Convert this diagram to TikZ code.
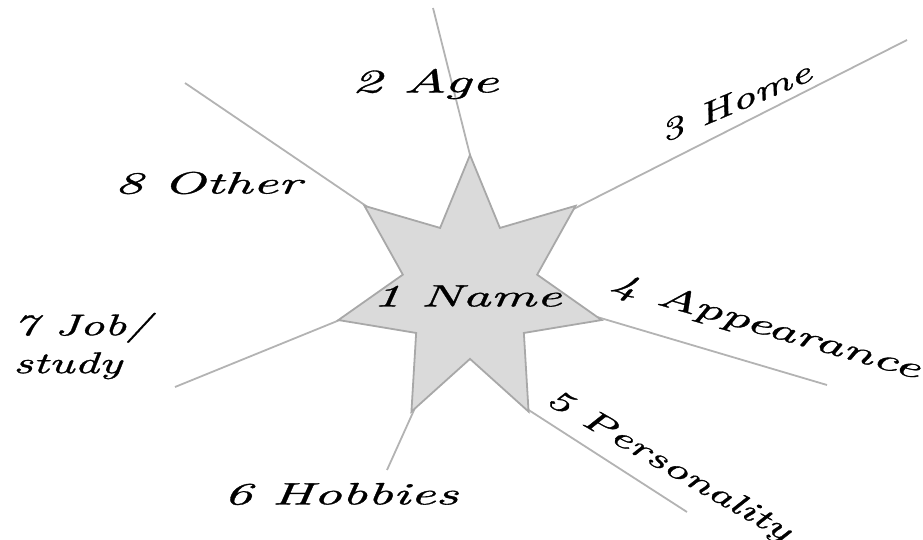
\documentclass[tikz,border=0pt]{standalone}
\usepackage{fontspec}
\newfontfamily\handfont{lmroman10-italic.otf}[FakeStretch=1.8,FakeBold=1]
\newfontfamily\handnarrow{lmroman10-italic.otf}[FakeStretch=1.6,FakeBold=1]
\usetikzlibrary{shapes.geometric}
\definecolor{spokegray}{HTML}{B3B3B3}
\definecolor{starfill}{HTML}{DADADA}
\definecolor{stardraw}{HTML}{A8A8A8}
\begin{document}
\begin{tikzpicture}[x=1bp,y=-1bp,
  lbl/.style={font=\handfont\fontsize{31}{38}\selectfont, inner sep=0pt, text=black},
  lblnarrow/.style={font=\handnarrow\fontsize{30}{38}\selectfont, inner sep=0pt, text=black},
  spoke/.style={draw=spokegray, line width=1.8bp},
  starbox/.style={star, star points=7, star point ratio=1.96, minimum size=270bp,
    inner sep=0pt, outer sep=0pt, fill=starfill, draw=stardraw, line width=1.8bp}]
\useasboundingbox (0,0) rectangle (923,540);
% free ends of the spokes
\coordinate (eAge) at (433,8);
\coordinate (eHome) at (907,40);
\coordinate (eOther) at (185,83);
\coordinate (eApp) at (827,385);
\coordinate (ePers) at (687,512);
\coordinate (eHob) at (387,470);
\coordinate (eJob) at (175,387);
% spokes (drawn under the star)
\node[starbox, draw=none, fill=none] (starpos) at (470,290) {};
\draw[spoke] (starpos.90) -- (eAge);
\draw[spoke] (starpos.38.57) -- (eHome);
\draw[spoke] (starpos.141.43) -- (eOther);
\draw[spoke] (starpos.-12.86) -- (eApp);
\draw[spoke] (starpos.-64.29) -- (ePers);
\draw[spoke] (starpos.-115.71) -- (eHob);
\draw[spoke] (starpos.-167.14) -- (eJob);
\node[starbox] (star) at (470,290) {};
% labels
\node[lbl] (name) at (467,296) {1 Name};
\node[lbl, font=\handfont\fontsize{33}{38}\selectfont] (age) at (425,84) {2 Age};
\node[lblnarrow, rotate=23] (home) at (735,102) {3 Home};
\node[lbl, rotate=-16] (app) at (765,327) {4 Appearance};
\node[lblnarrow, rotate=-30] (pers) at (668,466) {5 Personality};
\node[lbl] (hob) at (341,494) {6 Hobbies};
\node[lblnarrow, align=left, anchor=west] (job) at (13,346) {7 Job/\\study};
\node[lbl] (other) at (208,183) {8 Other};
\end{tikzpicture}
\end{document}
